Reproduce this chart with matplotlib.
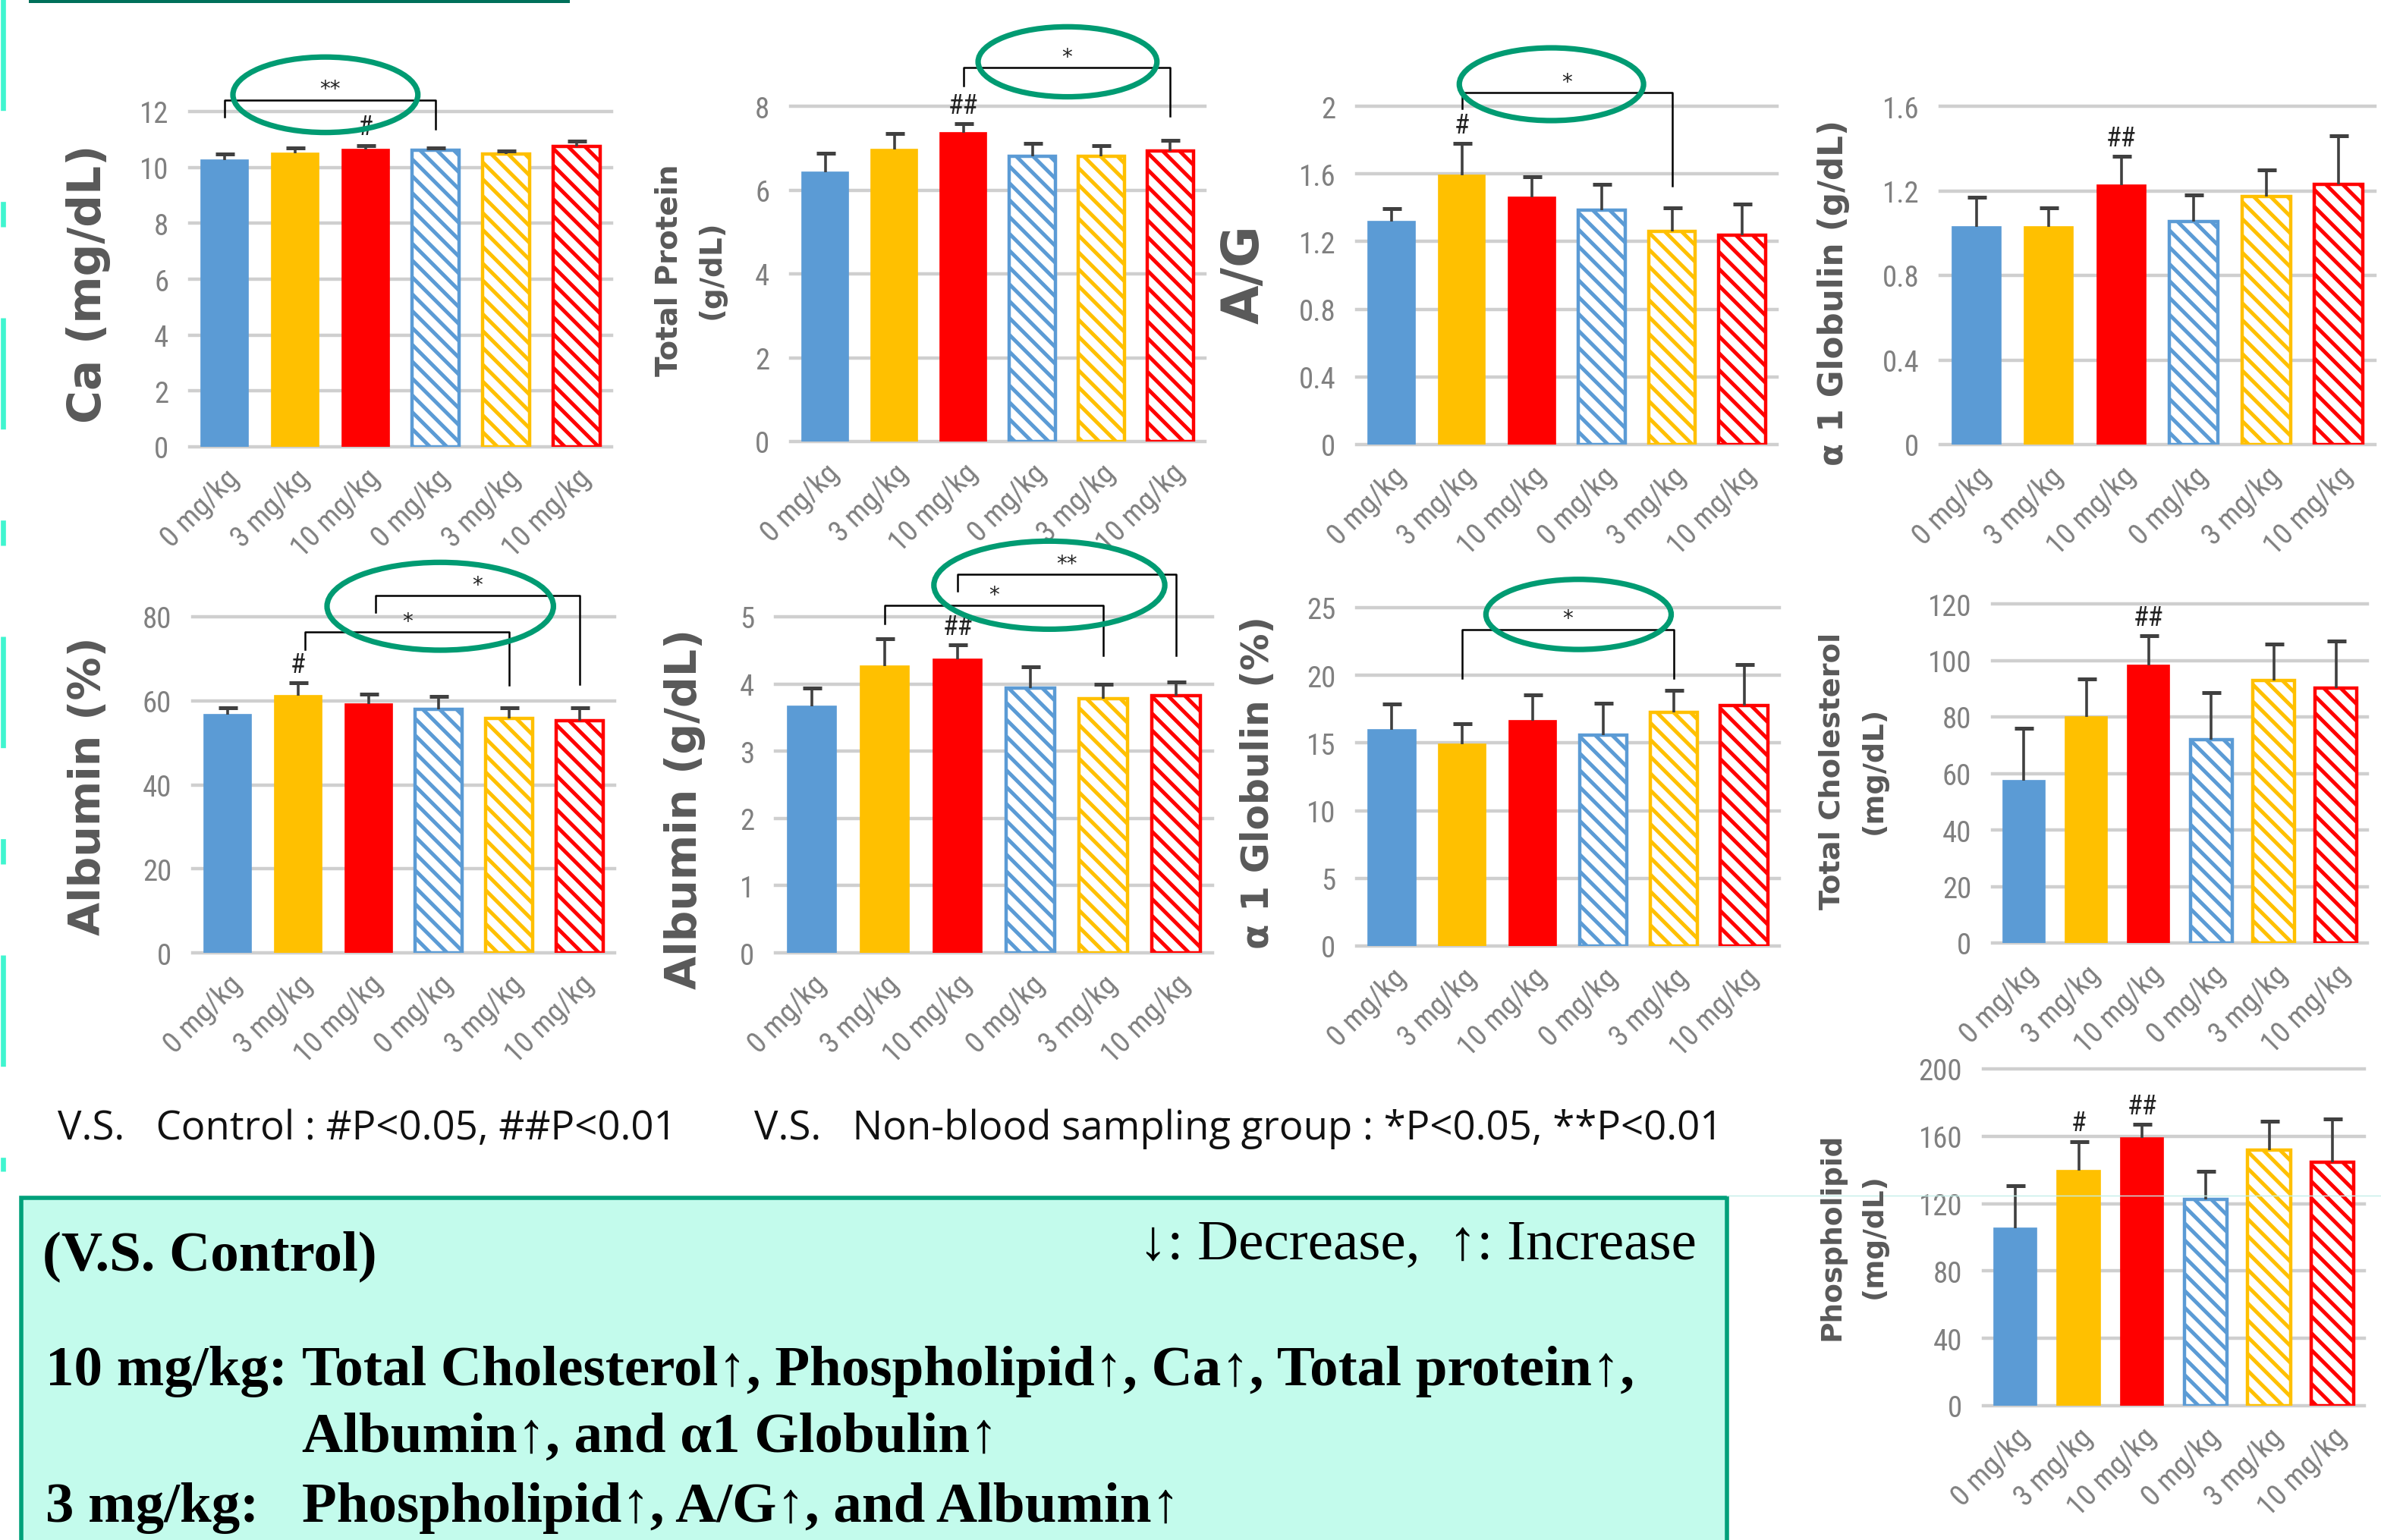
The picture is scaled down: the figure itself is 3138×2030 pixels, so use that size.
import numpy as np
import matplotlib
matplotlib.use("Agg")
import matplotlib.pyplot as plt
from matplotlib import font_manager as fm
from matplotlib.patches import Ellipse, Rectangle
from matplotlib.lines import Line2D
from matplotlib.transforms import ScaledTranslation

# ── data ─────────────────────────────────────────────────────────────────────
categories = ["0 mg/kg", "3 mg/kg", "10 mg/kg", "0 mg/kg", "3 mg/kg", "10 mg/kg"]

ca_mean = [10.27, 10.51, 10.63, 10.62, 10.49, 10.76]
ca_sd = [0.20, 0.18, 0.16, 0.08, 0.10, 0.18]
tp_mean = [6.43, 6.96, 7.36, 6.81, 6.81, 6.94]
tp_sd = [0.45, 0.38, 0.22, 0.30, 0.25, 0.25]
ag_mean = [1.317, 1.594, 1.46, 1.385, 1.262, 1.236]
ag_sd = [0.077, 0.186, 0.125, 0.151, 0.138, 0.184]
a1g_mean = [1.031, 1.031, 1.228, 1.053, 1.172, 1.232]
a1g_sd = [0.139, 0.089, 0.135, 0.127, 0.128, 0.228]
albp_mean = [56.75, 61.2, 59.3, 58.0, 55.8, 55.3]
albp_sd = [1.65, 3.0, 2.3, 3.0, 2.6, 3.1]
alb_mean = [3.67, 4.27, 4.37, 3.94, 3.78, 3.83]
alb_sd = [0.27, 0.40, 0.21, 0.32, 0.22, 0.20]
a1gp_mean = [15.96, 14.92, 16.66, 15.57, 17.29, 17.79]
a1gp_sd = [1.92, 1.48, 1.90, 2.39, 1.58, 3.01]
tc_mean = [57.4, 80.0, 98.3, 72.0, 93.0, 90.3]
tc_sd = [18.6, 13.3, 10.4, 16.5, 12.8, 16.5]
pl_mean = [105.4, 139.5, 159.2, 122.4, 151.8, 144.7]
pl_sd = [25.2, 17.3, 7.7, 16.7, 17.2, 25.6]

# vs control marks
ca_hash = ["", "", "#", "", "", ""]
tp_hash = ["", "", "##", "", "", ""]
ag_hash = ["", "#", "", "", "", ""]
a1g_hash = ["", "", "##", "", "", ""]
albp_hash = ["", "#", "", "", "", ""]
alb_hash = ["", "", "##", "", "", ""]
a1gp_hash = ["", "", "", "", "", ""]
tc_hash = ["", "", "##", "", "", ""]
pl_hash = ["", "#", "##", "", "", ""]

# vs non-blood-sampling brackets: (from, to, top, left leg end, right leg end, label)
ca_brk = [(0, 3, 12.42, 11.82, 11.38, "**")]
tp_brk = [(2, 5, 8.92, 8.49, 7.77, "*")]
ag_brk = [(1, 4, 2.08, 1.985, 1.53, "*")]
albp_brk = [(1.1, 4.0, 76.4, 72.3, 63.8, "*"), (2.1, 5.0, 85.1, 81.0, 64.0, "*")]
alb_brk = [(1, 4, 5.17, 4.9, 4.43, "*"), (2, 5, 5.63, 5.38, 4.43, "**")]
a1gp_brk = [(1, 4, 23.4, 19.8, 19.8, "*")]

# highlight ellipses: (cx, cy, width, height) in data units
ca_ell = (1.43, 12.6, 2.63, 2.7)
tp_ell = (3.51, 9.06, 2.59, 1.67)
ag_ell = (2.28, 2.13, 2.63, 0.43)
albp_ell = (3.02, 82.5, 3.22, 20.9)
alb_ell = (3.26, 5.47, 3.17, 1.31)
a1gp_ell = (2.65, 24.5, 2.63, 5.18)

# ── style ────────────────────────────────────────────────────────────────────
names = {f.name for f in fm.fontManager.ttflist}
TICK_FONT = next((n for n in ["Liberation Sans Narrow", "Roboto Condensed",
                              "Noto Sans", "DejaVu Sans"] if n in names),
                 "DejaVu Sans")
COLORS = ["#5B9BD5", "#FFC000", "#FF0000"] * 2
GRID = "#CFCFCF"
TICKC = "#808080"
LABC = "#595959"
ELLC = "#009B72"

plt.rcParams["hatch.linewidth"] = 1.8

W, H = 3138, 2031
fig = plt.figure(figsize=(W / 200, H / 200), dpi=200)


def px_axes(l, r, t, b):
    return fig.add_axes([l / W, 1 - b / H, (r - l) / W, (b - t) / H])


def panel(box, mean, sd, top, step, hashes, ylabel, lab_xy, lab_size,
          brackets=(), ell=None, lsp=1.35):
    ax = px_axes(*box)
    x = np.arange(len(mean))
    for i in x:
        if i < 3:
            ax.bar(i, mean[i], 0.67, color=COLORS[i], edgecolor=COLORS[i],
                   linewidth=0.6, zorder=2)
        else:
            ax.bar(i, mean[i], 0.67, facecolor="white", edgecolor=COLORS[i],
                   hatch="\\\\\\", linewidth=1.6, zorder=2)
    eb = ax.errorbar(x, mean, yerr=[np.zeros(len(sd)), sd], fmt="none",
                     ecolor="#404040", elinewidth=1.3, capsize=4.5,
                     capthick=1.8, zorder=3)
    eb[1][0].set_visible(False)

    ticks = np.arange(0, top + step / 2, step)
    for t in ticks:
        ax.axhline(t, color=GRID, lw=1.6, zorder=1, clip_on=False)
    ax.set_ylim(0, top)
    ax.set_xlim(-0.5, len(mean) - 0.5)
    ax.set_yticks(ticks)
    ax.set_yticklabels([f"{t:g}" for t in ticks], fontsize=14, color=TICKC,
                       family=TICK_FONT)
    ax.set_xticks(x)
    ax.set_xticklabels(categories, rotation=45, ha="right", va="top",
                       rotation_mode="anchor", fontsize=14, color=TICKC,
                       family=TICK_FONT)
    off = ScaledTranslation(7 / 72, 0, fig.dpi_scale_trans)
    for lab in ax.get_xticklabels():
        lab.set_transform(lab.get_transform() + off)
    ax.tick_params(axis="y", length=0, pad=10)
    ax.tick_params(axis="x", length=0, pad=8)
    for s in ax.spines.values():
        s.set_visible(False)

    for i, h in enumerate(hashes):
        if h:
            ax.text(i, mean[i] + sd[i] + 0.055 * top, h, ha="center",
                    va="center", fontsize=13, color="#222222", family=TICK_FONT)
    for a, b, yt, ya, yb, lab in brackets:
        ax.add_line(Line2D([a, a, b, b], [ya, yt, yt, yb], color="black",
                           lw=0.9, clip_on=False, zorder=5))
        ax.text((a + b) / 2, yt + 0.032 * top, lab, ha="center", va="center",
                fontsize=10, color="#222222", clip_on=False)
    if ell is not None:
        ax.add_patch(Ellipse(ell[:2], ell[2], ell[3], fill=False,
                             edgecolor=ELLC, lw=2.6, clip_on=False, zorder=6))

    fig.text(lab_xy[0] / W, 1 - lab_xy[1] / H, ylabel, rotation=90,
             ha="center", va="center", fontsize=lab_size, fontweight="bold",
             color=LABC, linespacing=lsp)
    return ax


panel((250, 806, 148, 590), ca_mean, ca_sd, 12, 2, ca_hash,
      "Ca (mg/dL)", (116, 374), 21.5, ca_brk, ca_ell)
panel((1042, 1588, 141, 583), tp_mean, tp_sd, 8, 2, tp_hash,
      "Total Protein\n(g/dL)", (910, 356), 14, tp_brk, tp_ell, lsp=1.6)
panel((1788, 2342, 141, 587), ag_mean, ag_sd, 2, 0.4, ag_hash,
      "A/G", (1640, 362), 24, ag_brk, ag_ell)
panel((2557, 3130, 141, 587), a1g_mean, a1g_sd, 1.6, 0.4, a1g_hash,
      "α 1 Globulin (g/dL)", (2416, 386), 15.7)
panel((254, 810, 814, 1257), albp_mean, albp_sd, 80, 20, albp_hash,
      "Albumin (%)", (116, 1036), 20.5, albp_brk, albp_ell)
panel((1022, 1598, 814, 1257), alb_mean, alb_sd, 5, 1, alb_hash,
      "Albumin (g/dL)", (902, 1066), 20.5, alb_brk, alb_ell)
panel((1788, 2345, 802, 1248), a1gp_mean, a1gp_sd, 25, 5, a1gp_hash,
      "α 1 Globulin (%)", (1658, 1032), 17.5, a1gp_brk, a1gp_ell)
panel((2626, 3120, 797, 1244), tc_mean, tc_sd, 120, 20, tc_hash,
      "Total Cholesterol\n(mg/dL)", (2442, 1016), 13.8, lsp=1.7)
panel((2614, 3116, 1410, 1854), pl_mean, pl_sd, 200, 40, pl_hash,
      "Phospholipid\n(mg/dL)", (2442, 1630), 13.5, lsp=1.7)

# ── legend lines ─────────────────────────────────────────────────────────────
fig.text(76 / W, 1 - 1488 / H, "V.S.   Control : #P<0.05, ##P<0.01",
         ha="left", va="center", fontsize=19, family="Open Sans", color="#111111")
fig.text(994 / W, 1 - 1488 / H,
         "V.S.   Non-blood sampling group : *P<0.05, **P<0.01",
         ha="left", va="center", fontsize=19, family="Open Sans", color="#111111")

# ── summary box ──────────────────────────────────────────────────────────────
fig.patches.append(Rectangle((28 / W, -0.02), (2276 - 28) / W, 1 - 1580 / H + 0.02,
                             transform=fig.transFigure, facecolor="#C3FBEC",
                             edgecolor="#00A07A", lw=2.0, zorder=0))
serif = ["Liberation Serif", "DejaVu Serif"]
fig.text(56 / W, 1 - 1656 / H, "(V.S. Control)", ha="left", va="center",
         fontsize=27, fontweight="bold", family=serif)
fig.text(2236 / W, 1 - 1642 / H, "↓: Decrease,  ↑: Increase", ha="right",
         va="center", fontsize=27, family=serif)
fig.text(60 / W, 1 - 1808 / H, "10 mg/kg:", ha="left", va="center",
         fontsize=27, fontweight="bold", family=serif)
fig.text(398 / W, 1 - 1808 / H,
         "Total Cholesterol↑, Phospholipid↑, Ca↑, Total protein↑,",
         ha="left", va="center", fontsize=27, fontweight="bold", family=serif)
fig.text(398 / W, 1 - 1896 / H, "Albumin↑, and α1 Globulin↑", ha="left",
         va="center", fontsize=27, fontweight="bold", family=serif)
fig.text(60 / W, 1 - 1988 / H, "3 mg/kg:", ha="left", va="center",
         fontsize=27, fontweight="bold", family=serif)
fig.text(398 / W, 1 - 1988 / H, "Phospholipid↑, A/G↑, and Albumin↑",
         ha="left", va="center", fontsize=27, fontweight="bold", family=serif)

# ── slide decorations ────────────────────────────────────────────────────────
fig.add_artist(Line2D([4 / W, 4 / W], [1, 1 - 1545 / H], color="#40F5CF",
                      lw=2.4, dashes=(22, 18, 5, 18), transform=fig.transFigure))
fig.add_artist(Line2D([40 / W, 748 / W], [1 - 2 / H, 1 - 2 / H], color="#00705A",
                      lw=1.8, transform=fig.transFigure))
fig.add_artist(Line2D([2276 / W, 1], [1 - 1577 / H, 1 - 1577 / H], color="#C4EFE8",
                      lw=0.5, transform=fig.transFigure))

fig.savefig("out.png", dpi=200)
